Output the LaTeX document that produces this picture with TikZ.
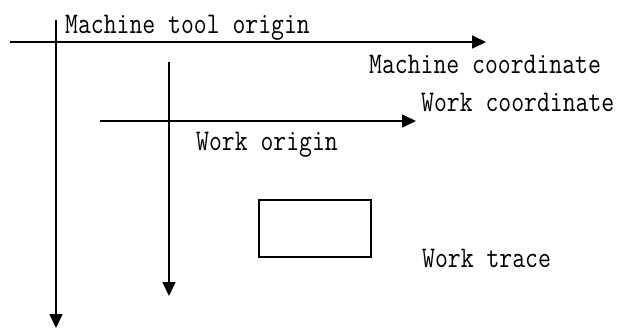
\documentclass[tikz,border=0pt]{standalone}
\usetikzlibrary{arrows.meta,positioning}
\newcommand{\tall}[1]{\scalebox{1}[1.2]{#1}}
\tikzset{
  axis/.style  = {draw, line width=1.6pt, -{Triangle[length=14pt,width=13pt]}},
  lbl/.style   = {font=\ttfamily\fontsize{25}{28}\selectfont, inner sep=0pt, anchor=base west},
  trace/.style = {draw, line width=1.6pt, minimum width=112pt, minimum height=57pt, inner sep=0pt}
}

\begin{document}
\begin{tikzpicture}[x=1pt,y=-1pt]
  \useasboundingbox (0,0) rectangle (621,333);
  % machine axes
  \coordinate (mxs) at (10,42);
  \coordinate (mxe) at (486,42);
  \coordinate (mys) at (56,20);
  \coordinate (mye) at (56,328);
  \draw [axis] (mxs) -- (mxe);
  \draw [axis] (mys) -- (mye);
  % work axes
  \coordinate (wxs) at (100,121);
  \coordinate (wxe) at (416,121);
  \coordinate (wys) at (169,62);
  \coordinate (wye) at (169,296);
  \draw [axis] (wxs) -- (wxe);
  \draw [axis] (wys) -- (wye);
  % workpiece
  \node [trace] (piece) at (315,228.5) {};
  % labels
  \node [lbl] (mtorigin) at (65,33)  {\tall{Machine tool origin}};
  \node [lbl] (mcoord)   at (369,73) {\tall{Machine coordinate}};
  \node [lbl] (wcoord)   at (421,111) {\tall{Work coordinate}};
  \node [lbl] (worigin)  at (196,150) {\tall{Work origin}};
  \node [lbl] (wtrace)   at (422,267) {\tall{Work trace}};
\end{tikzpicture}
\end{document}
